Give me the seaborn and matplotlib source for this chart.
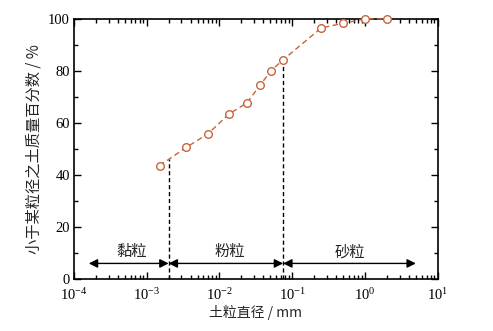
import numpy as np
import pandas as pd
import matplotlib
matplotlib.use("Agg")
import matplotlib.pyplot as plt
import seaborn as sns
from matplotlib.ticker import LogLocator, MultipleLocator, NullFormatter

diameter_mm = [0.0015, 0.0035, 0.0070, 0.0136, 0.0236, 0.0366, 0.0508, 0.075, 0.25, 0.50, 1.0, 2.0]
percent_finer = [43.6, 50.6, 55.9, 63.5, 67.6, 74.7, 80.0, 84.3, 96.5, 98.3, 100.0, 100.0]
boundaries = [0.002, 0.075]
ranges = [(1.6e-4, 0.002), (0.002, 0.075), (0.075, 5.0)]
range_labels = ["黏粒", "粉粒", "砂粒"]
label_x = [6.2e-4, 0.0139, 0.62]

sns.set_theme(style="ticks")
plt.rcParams['font.family'] = ['Liberation Serif', 'Noto Sans CJK SC', 'DejaVu Sans']
plt.rcParams['mathtext.fontset'] = 'stix'

fig = plt.figure(figsize=(4.93, 3.31), dpi=100)
ax = fig.add_axes([0.150, 0.157, 0.738, 0.786])

df = pd.DataFrame({"d": diameter_mm, "p": percent_finer})
col = '#c8643c'
sns.lineplot(data=df, x="d", y="p", ax=ax, color=col, linestyle=(0, (4, 2.5)), lw=1.0,
             marker='o', markersize=5.5, markerfacecolor='white', markeredgecolor=col,
             markeredgewidth=1.0, clip_on=False, zorder=5)
ax.set_xscale('log')
ax.set_xlim(1e-4, 10)
ax.set_ylim(0, 100)

logd = np.log10(diameter_mm)
for b in boundaries:
    top = np.interp(np.log10(b), logd, percent_finer)
    ax.plot([b, b], [0, top], color='black', lw=1.0, linestyle=(0, (3, 2)))

arrow_y = 6
for (x0, x1) in ranges:
    ax.annotate('', xy=(x0, arrow_y), xytext=(x1, arrow_y),
                arrowprops=dict(arrowstyle='<|-|>', color='black', lw=1.0,
                                mutation_scale=13, shrinkA=0, shrinkB=0))
for lx, lab in zip(label_x, range_labels):
    ax.text(lx, 10.5, lab, ha='center', va='center', fontsize=11,
            family=['Noto Sans CJK SC', 'DejaVu Sans'])

ax.xaxis.set_major_locator(LogLocator(base=10, numticks=10))
ax.xaxis.set_minor_locator(LogLocator(base=10, subs=np.arange(2, 10), numticks=20))
ax.xaxis.set_minor_formatter(NullFormatter())
ax.yaxis.set_major_locator(MultipleLocator(20))
ax.yaxis.set_minor_locator(MultipleLocator(10))
ax.tick_params(which='both', direction='in', top=True, right=True, labelsize=10.5,
               colors='black', width=1.0)
ax.tick_params(which='major', length=5)
ax.tick_params(which='minor', length=3)
ax.tick_params(axis='x', which='major', pad=6)
ax.tick_params(axis='y', which='major', pad=3)
for s in ax.spines.values():
    s.set_linewidth(1.2)
    s.set_color('black')

ax.set_xlabel('土粒直径 / mm', fontsize=10, family=['Noto Sans CJK SC', 'DejaVu Sans'], labelpad=1)
ax.set_ylabel('小于某粒径之土质量百分数 / %', fontsize=11,
              family=['Noto Sans CJK SC', 'DejaVu Sans'], labelpad=4)

fig.savefig('out.png', dpi=100, facecolor='white')
